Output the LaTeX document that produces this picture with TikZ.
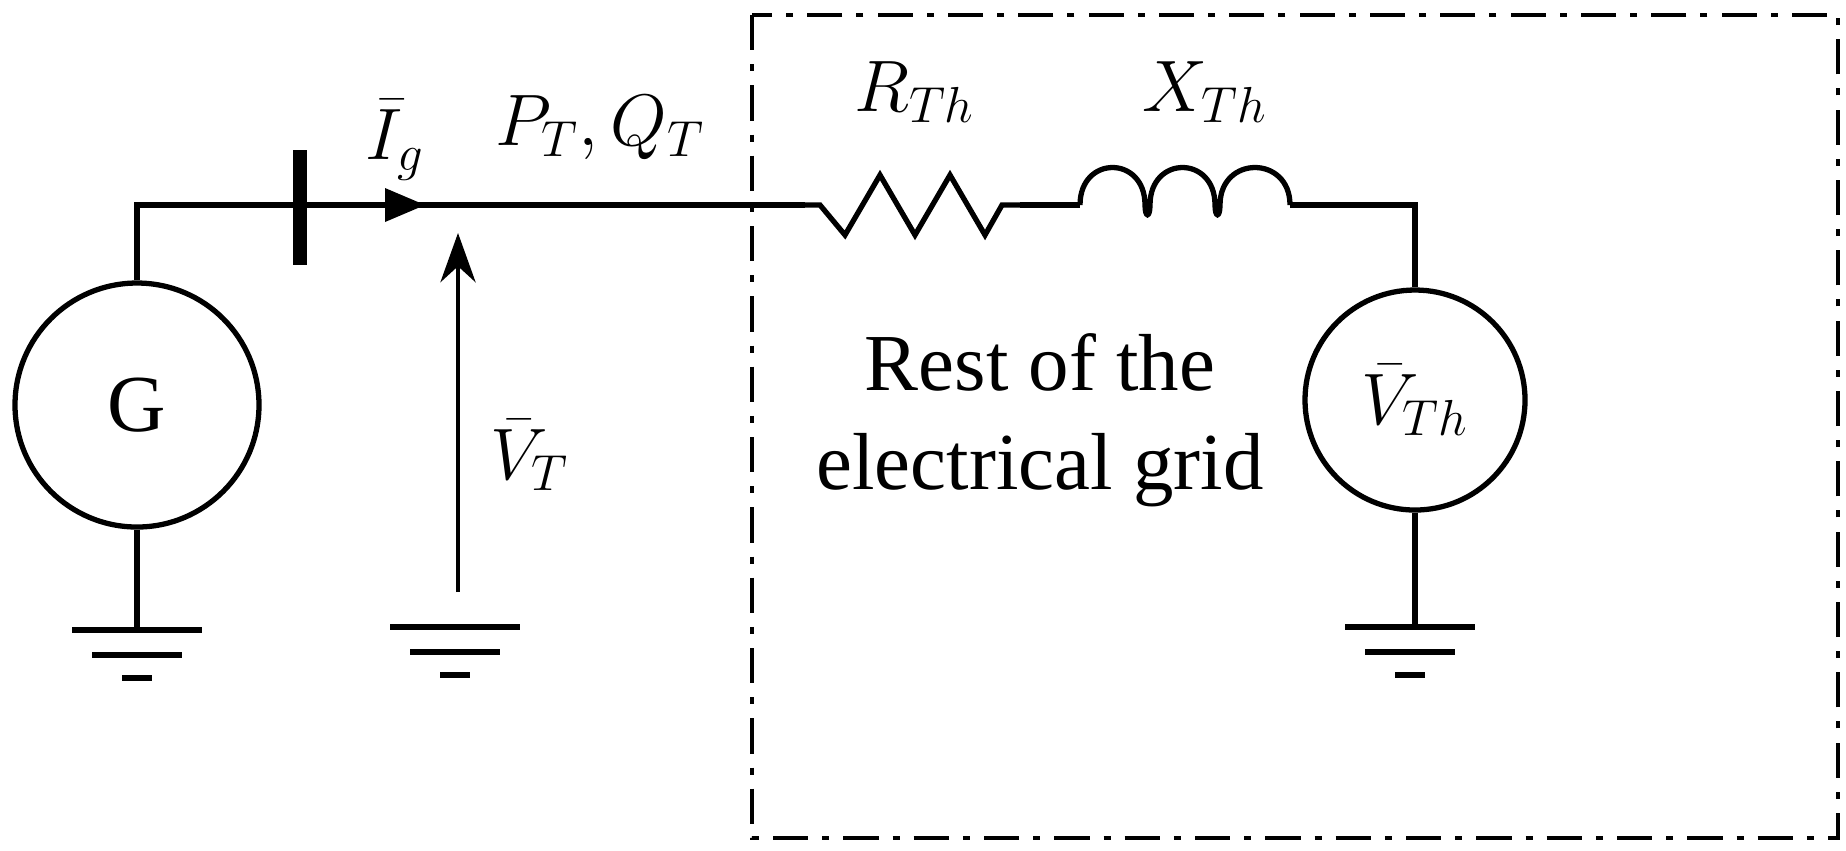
\documentclass[tikz,border=0pt]{standalone}
\usepackage{fontspec}
\setmainfont{Liberation Serif}
\usetikzlibrary{arrows.meta}
\begin{document}
\begin{tikzpicture}[x=0.01cm,y=-0.01cm,
  w/.style={line width=1.5pt},
  lbl/.style={font=\fontsize{23}{28}\selectfont},
  mlbl/.style={font=\fontsize{20}{24}\selectfont},
  gnd/.style={line width=1.5pt}]
\useasboundingbox (0,0) rectangle (1846,850);
\draw[line width=1.1pt,dash pattern=on 10pt off 4pt on 2pt off 4pt] (752,15) rectangle (1838,838);
% generator
\node[draw,circle,w,minimum size=244*0.01cm,inner sep=0,lbl] (G) at (137,405) {G};
\coordinate (c1) at (137,205);
\coordinate (n1) at (805,205);
\draw[w] (G.north) -- (c1) -- (n1);
\coordinate (bt) at (300,150); \coordinate (bb) at (300,265);
\draw[line width=4pt] (bt) -- (bb);
\coordinate (ar) at (425,205);
\fill (ar) -- ++(-40,-17) -- ++(0,34) -- cycle;
\node[mlbl] (Ig) at (395,140) {$\bar{I}_g$};
\node[mlbl] (PQ) at (600,128) {$P_T,Q_T$};
% VT arrow
\coordinate (va) at (458,592); \coordinate (vb) at (458,233);
\draw[line width=1.1pt,-{Stealth[length=14pt,width=10pt]}] (va) -- (vb);
\node[mlbl] (VT) at (530,455) {$\bar{V}_T$};
% grounds
\coordinate (g1) at (137,630);
\draw[w] (G.south) -- (g1);
\draw[gnd] (72,630)--(202,630) (92,655)--(182,655) (122,678)--(152,678);
\draw[gnd] (390,627)--(520,627) (410,652)--(500,652) (440,675)--(470,675);
% resistor
\coordinate (r2) at (1020,205);
\draw[w] (n1) -- (820,205) -- (845,235) -- (880,175) -- (915,235) -- (950,175) -- (985,235) -- (1002,205) -- (r2);
% inductor
\coordinate (l1) at (1080,205); \coordinate (l2) at (1290,205);
\draw[w] (r2) -- (l1);
\draw[w] (1080,205) .. controls (1080,155) and (1145,155) .. (1145,205)
  .. controls (1145,218) and (1150,218) .. (1150,205)
  .. controls (1150,155) and (1215,155) .. (1215,205)
  .. controls (1215,218) and (1220,218) .. (1220,205)
  .. controls (1220,155) and (1290,155) .. (1290,205);
\node[mlbl] (R) at (915,92) {$R_{Th}$};
\node[mlbl] (X) at (1205,92) {$X_{Th}$};
\node[draw,circle,w,minimum size=220*0.01cm,inner sep=0,mlbl] (VS) at (1415,400) {$\bar{V}_{Th}$};
\coordinate (c2) at (1415,205);
\draw[w] (l2) -- (c2) -- (VS.north);
\coordinate (g3) at (1415,627);
\draw[w] (VS.south) -- (g3);
\draw[gnd] (1345,627)--(1475,627) (1365,652)--(1455,652) (1395,675)--(1425,675);
\node[lbl,align=center] (txt) at (1040,420) {Rest of the\\electrical grid};
\end{tikzpicture}
\end{document}
